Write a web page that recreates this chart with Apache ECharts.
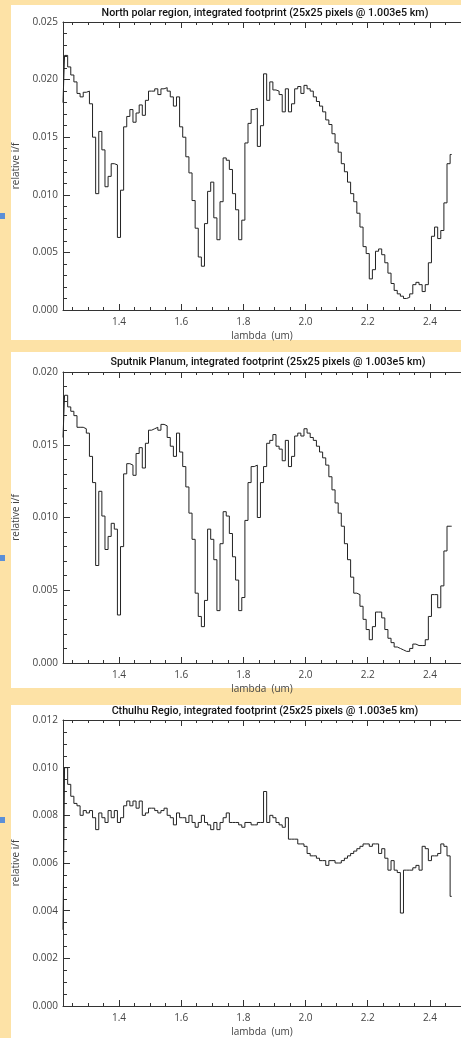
<!DOCTYPE html>
<html>
<head>
<meta charset="utf-8">
<script src="https://cdn.jsdelivr.net/npm/echarts@6/dist/echarts.min.js"></script>
<style>
  html, body { margin: 0; padding: 0; background: #fde2a6; }
  #chart { width: 461px; height: 1038px; }
</style>
</head>
<body>
<div id="chart"></div>
<script>
// wavelength grid (um), shared by the three spectra
const lambda = [
  1.22, 1.23, 1.24, 1.25, 1.26, 1.27, 1.28, 1.29, 1.30, 1.31,
  1.32, 1.33, 1.34, 1.35, 1.36, 1.37, 1.38, 1.39, 1.40, 1.41,
  1.42, 1.43, 1.44, 1.45, 1.46, 1.47, 1.48, 1.49, 1.50, 1.51,
  1.52, 1.53, 1.54, 1.55, 1.56, 1.57, 1.58, 1.59, 1.60, 1.61,
  1.62, 1.63, 1.64, 1.65, 1.66, 1.67, 1.68, 1.69, 1.70, 1.71,
  1.72, 1.73, 1.74, 1.75, 1.76, 1.77, 1.78, 1.79, 1.80, 1.81,
  1.82, 1.83, 1.84, 1.85, 1.86, 1.87, 1.88, 1.89, 1.90, 1.91,
  1.92, 1.93, 1.94, 1.95, 1.96, 1.97, 1.98, 1.99, 2.00, 2.01,
  2.02, 2.03, 2.04, 2.05, 2.06, 2.07, 2.08, 2.09, 2.10, 2.11,
  2.12, 2.13, 2.14, 2.15, 2.16, 2.17, 2.18, 2.19, 2.20, 2.21,
  2.22, 2.23, 2.24, 2.25, 2.26, 2.27, 2.28, 2.29, 2.30, 2.31,
  2.32, 2.33, 2.34, 2.35, 2.36, 2.37, 2.38, 2.39, 2.40, 2.41,
  2.42, 2.43, 2.44, 2.45, 2.46, 2.47
];

// relative i/f
const northPolar = [
  0.0180, 0.0221, 0.0211, 0.0204, 0.0198, 0.0188, 0.0185, 0.0189, 0.0190, 0.0179,
  0.0150, 0.0101, 0.0155, 0.0139, 0.0107, 0.0116, 0.0127, 0.0126, 0.0063, 0.0104,
  0.0159, 0.0168, 0.0174, 0.0163, 0.0171, 0.0178, 0.0169, 0.0182, 0.0190, 0.0190,
  0.0192, 0.0187, 0.0192, 0.0193, 0.0190, 0.0185, 0.0177, 0.0185, 0.0159, 0.0150,
  0.0133, 0.0119, 0.0095, 0.0071, 0.0046, 0.0038, 0.0075, 0.0103, 0.0111, 0.0080,
  0.0061, 0.0094, 0.0132, 0.0130, 0.0122, 0.0101, 0.0087, 0.0061, 0.0078, 0.0145,
  0.0162, 0.0174, 0.0175, 0.0142, 0.0160, 0.0205, 0.0182, 0.0198, 0.0191, 0.0190,
  0.0187, 0.0172, 0.0192, 0.0172, 0.0179, 0.0192, 0.0194, 0.0188, 0.0195, 0.0192,
  0.0190, 0.0185, 0.0181, 0.0177, 0.0172, 0.0165, 0.0161, 0.0153, 0.0145, 0.0137,
  0.0127, 0.0120, 0.0111, 0.0101, 0.0094, 0.0084, 0.0072, 0.0055, 0.0049, 0.0027,
  0.0035, 0.0051, 0.0053, 0.0048, 0.0041, 0.0032, 0.0023, 0.0017, 0.0014, 0.0012,
  0.0010, 0.0011, 0.0014, 0.0022, 0.0024, 0.0022, 0.0016, 0.0022, 0.0041, 0.0064,
  0.0072, 0.0062, 0.0069, 0.0093, 0.0127, 0.0135
];

const sputnikPlanum = [
  0.0155, 0.0184, 0.0176, 0.0173, 0.0170, 0.0162, 0.0162, 0.0161, 0.0158, 0.0142,
  0.0124, 0.0067, 0.0118, 0.0101, 0.0078, 0.0087, 0.0096, 0.0092, 0.0033, 0.0080,
  0.0130, 0.0137, 0.0136, 0.0129, 0.0144, 0.0148, 0.0134, 0.0151, 0.0160, 0.0161,
  0.0162, 0.0160, 0.0164, 0.0163, 0.0155, 0.0149, 0.0142, 0.0158, 0.0145, 0.0135,
  0.0121, 0.0103, 0.0085, 0.0048, 0.0032, 0.0025, 0.0043, 0.0092, 0.0085, 0.0071,
  0.0036, 0.0082, 0.0104, 0.0101, 0.0089, 0.0073, 0.0057, 0.0036, 0.0045, 0.0098,
  0.0124, 0.0135, 0.0136, 0.0100, 0.0124, 0.0135, 0.0151, 0.0153, 0.0157, 0.0149,
  0.0147, 0.0139, 0.0153, 0.0135, 0.0142, 0.0156, 0.0158, 0.0156, 0.0161, 0.0158,
  0.0155, 0.0153, 0.0149, 0.0145, 0.0141, 0.0136, 0.0128, 0.0119, 0.0110, 0.0103,
  0.0094, 0.0082, 0.0071, 0.0059, 0.0048, 0.0047, 0.0039, 0.0030, 0.0023, 0.0016,
  0.0025, 0.0035, 0.0035, 0.0031, 0.0023, 0.0017, 0.0014, 0.0011, 0.0010, 0.0009,
  0.0008, 0.0008, 0.0010, 0.0013, 0.0012, 0.0012, 0.0012, 0.0016, 0.0032, 0.0047,
  0.0047, 0.0038, 0.0053, 0.0077, 0.0094, 0.0094
];

const cthulhuRegio = [
  0.0032, 0.0100, 0.0093, 0.0088, 0.0085, 0.0084, 0.0080, 0.0082, 0.0081, 0.0082,
  0.0079, 0.0074, 0.0081, 0.0079, 0.0077, 0.0082, 0.0079, 0.0082, 0.0077, 0.0079,
  0.0084, 0.0086, 0.0084, 0.0086, 0.0083, 0.0086, 0.0080, 0.0081, 0.0083, 0.0083,
  0.0082, 0.0081, 0.0082, 0.0083, 0.0080, 0.0079, 0.0076, 0.0081, 0.0079, 0.0079,
  0.0077, 0.0080, 0.0077, 0.0075, 0.0077, 0.0080, 0.0077, 0.0076, 0.0074, 0.0077,
  0.0074, 0.0077, 0.0079, 0.0081, 0.0077, 0.0077, 0.0077, 0.0076, 0.0075, 0.0077,
  0.0077, 0.0076, 0.0076, 0.0077, 0.0077, 0.0090, 0.0077, 0.0080, 0.0079, 0.0077,
  0.0076, 0.0075, 0.0079, 0.0070, 0.0070, 0.0070, 0.0068, 0.0068, 0.0067, 0.0064,
  0.0063, 0.0063, 0.0062, 0.0061, 0.0061, 0.0059, 0.0061, 0.0061, 0.0060, 0.0060,
  0.0061, 0.0062, 0.0063, 0.0064, 0.0065, 0.0066, 0.0067, 0.0068, 0.0068, 0.0067,
  0.0068, 0.0068, 0.0064, 0.0066, 0.0062, 0.0057, 0.0061, 0.0057, 0.0056, 0.0039,
  0.0057, 0.0057, 0.0057, 0.0058, 0.0059, 0.0057, 0.0067, 0.0066, 0.0061, 0.0063,
  0.0063, 0.0064, 0.0068, 0.0067, 0.0063, 0.0046
];

const titles = [
  'North polar region, integrated footprint (25x25 pixels @ 1.003e5 km)',
  'Sputnik Planum, integrated footprint (25x25 pixels @ 1.003e5 km)',
  'Cthulhu Regio, integrated footprint (25x25 pixels @ 1.003e5 km)'
];
const xTicks = [1.4, 1.6, 1.8, 2.0, 2.2, 2.4];
const xMinorTicks = [1.25, 1.3, 1.35, 1.45, 1.5, 1.55, 1.65, 1.7, 1.75, 1.85,
  1.9, 1.95, 2.05, 2.1, 2.15, 2.25, 2.3, 2.35, 2.45];

const FONT = "'Open Sans', 'DejaVu Sans', sans-serif";
const TITLE_FONT = "Roboto, 'Liberation Sans', sans-serif";
const AXIS = '#333';

// panel placement (px) and y scale for each spectrum
const panels = [
  { data: northPolar, top: 22, height: 288, yMax: 0.025, yStep: 0.005, yMinor: 5, bgTop: 5, bgBottom: 340, mark: 213, titleX: 265, titleY: 13 },
  { data: sputnikPlanum, top: 372, height: 291, yMax: 0.020, yStep: 0.005, yMinor: 5, bgTop: 352, bgBottom: 688, mark: 555, titleX: 268, titleY: 362 },
  { data: cthulhuRegio, top: 720, height: 287, yMax: 0.012, yStep: 0.002, yMinor: 4, bgTop: 705, bgBottom: 1038, mark: 817, titleX: 265, titleY: 711 }
];

const chart = echarts.init(document.getElementById('chart'));

const grids = [], xAxes = [], yAxes = [], series = [], graphics = [];

panels.forEach((p, i) => {
  graphics.push({
    type: 'rect', z: -10,
    shape: { x: 11, y: p.bgTop, width: 450, height: p.bgBottom - p.bgTop },
    style: { fill: '#fff' }
  });
  graphics.push({
    type: 'rect', z: -10,
    shape: { x: 0, y: p.mark, width: 5, height: 6 },
    style: { fill: '#5b8fd8' }
  });
  graphics.push({
    type: 'text', x: p.titleX, y: p.titleY,
    style: {
      text: titles[i], align: 'center', verticalAlign: 'middle',
      fontSize: 10.7, fontWeight: 500, fontFamily: TITLE_FONT, fill: '#111'
    }
  });

  grids.push({ left: 63, top: p.top, width: 410, height: p.height });

  const base = {
    type: 'value', gridIndex: i, min: 1.22, max: 2.5,
    splitLine: { show: false },
    axisLine: { onZero: false, lineStyle: { color: AXIS, width: 1 } }
  };
  // bottom axis with labels and major ticks
  xAxes.push(Object.assign({}, base, {
    position: 'bottom',
    axisTick: { inside: true, length: 6, customValues: xTicks, lineStyle: { color: AXIS } },
    axisLabel: {
      customValues: xTicks, margin: 7, fontSize: 10, fontFamily: FONT, color: '#444',
      formatter: v => v.toFixed(1)
    },
    name: 'lambda  (um)', nameLocation: 'middle', nameGap: 21,
    nameTextStyle: { fontSize: 10, fontFamily: FONT, color: '#444' }
  }));
  // bottom minor ticks
  xAxes.push(Object.assign({}, base, {
    position: 'bottom',
    axisLine: { show: false, onZero: false },
    axisTick: { inside: true, length: 3, customValues: xMinorTicks, lineStyle: { color: AXIS } },
    axisLabel: { show: false }
  }));
  // top frame with major ticks
  xAxes.push(Object.assign({}, base, {
    position: 'top',
    axisTick: { inside: true, length: 6, customValues: xTicks, lineStyle: { color: AXIS } },
    axisLabel: { show: false }
  }));
  // top minor ticks
  xAxes.push(Object.assign({}, base, {
    position: 'top',
    axisLine: { show: false, onZero: false },
    axisTick: { inside: true, length: 3, customValues: xMinorTicks, lineStyle: { color: AXIS } },
    axisLabel: { show: false }
  }));

  yAxes.push({
    type: 'value', gridIndex: i, position: 'left',
    min: 0, max: p.yMax, interval: p.yStep,
    splitLine: { show: false },
    axisLine: { onZero: false, lineStyle: { color: AXIS, width: 1 } },
    axisTick: { inside: true, length: 7, lineStyle: { color: AXIS } },
    minorTick: { show: true, splitNumber: p.yMinor, length: 4, lineStyle: { color: AXIS } },
    axisLabel: {
      margin: 5, fontSize: 10, fontFamily: FONT, color: '#444',
      formatter: v => v.toFixed(3)
    },
    name: 'relative i/f', nameLocation: 'middle', nameGap: 34, nameRotate: 90,
    nameTextStyle: { fontSize: 10, fontFamily: FONT, color: '#444' }
  });

  series.push({
    type: 'line', xAxisIndex: i * 4, yAxisIndex: i,
    step: 'middle', symbol: 'none',
    lineStyle: { color: '#222', width: 1 },
    data: lambda.map((x, k) => [x, p.data[k]])
  });
});

chart.setOption({
  backgroundColor: '#fde2a6',
  animation: false,
  grid: grids,
  xAxis: xAxes,
  yAxis: yAxes,
  series: series,
  graphic: graphics
});
</script>
</body>
</html>
